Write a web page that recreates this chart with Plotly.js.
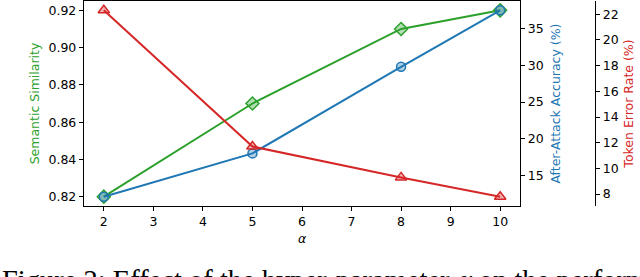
<!DOCTYPE html>
<html>
<head>
<meta charset="utf-8">
<script src="https://cdn.plot.ly/plotly-3.0.1.min.js"></script>
<style>html,body{margin:0;padding:0;background:#fff;overflow:hidden}</style>
</head>
<body>
<div id="chart" style="width:640px;height:277px"></div>
<script>
// Data
const alphas = [2, 5, 8, 10];
const semanticSimilarity = [0.82, 0.87, 0.91, 0.92];
const afterAttackAccuracy = [12.1, 18.0, 29.8, 37.5];
const tokenErrorRate = [22.3, 11.7, 9.3, 7.8];
const xTicks = [2, 3, 4, 5, 6, 7, 8, 9, 10];
const simTicks = [0.82, 0.84, 0.86, 0.88, 0.90, 0.92];
const accTicks = [15, 20, 25, 30, 35];
const terTicks = [8, 10, 12, 14, 16, 18, 20, 22];

const GREEN = '#2ca02c', BLUE = '#1f77b4', RED = '#d62728';
const FONT = 'DejaVu Sans, sans-serif';

function padded(v) { // matplotlib-like 5% margins
  const lo = Math.min(...v), hi = Math.max(...v), d = (hi - lo) * 0.05;
  return [lo - d, hi + d];
}

const W = 640, H = 277;
const margin = {l: 84, r: 10, t: 1, b: 71};
const paperW = W - margin.l - margin.r;
const plotRight = 520, thirdAxisX = 595;
const domEnd = (plotRight - margin.l) / paperW;
const thirdPos = (thirdAxisX - margin.l) / paperW;

function rgba(hex, a) {
  const n = parseInt(hex.slice(1), 16);
  return `rgba(${n >> 16},${(n >> 8) & 255},${n & 255},${a})`;
}

const traces = [
  {x: alphas, y: semanticSimilarity, yaxis: 'y', mode: 'lines+markers', name: 'Semantic Similarity',
   line: {color: GREEN, width: 2},
   marker: {symbol: 'diamond', size: 10, color: rgba(GREEN, 0.35), line: {color: GREEN, width: 1.5}}},
  {x: alphas, y: afterAttackAccuracy, yaxis: 'y2', mode: 'lines+markers', name: 'After-Attack Accuracy',
   line: {color: BLUE, width: 2},
   marker: {symbol: 'circle', size: 9, color: rgba(BLUE, 0.35), line: {color: BLUE, width: 1.5}}},
  {x: alphas, y: tokenErrorRate, yaxis: 'y3', mode: 'lines+markers', name: 'Token Error Rate',
   line: {color: RED, width: 2},
   marker: {symbol: 'triangle-up', size: 10, color: rgba(RED, 0.35), line: {color: RED, width: 1.5}}}
];

const tickFont = {family: FONT, size: 12.5, color: '#000'};
const common = {showgrid: false, zeroline: false, showline: true, linecolor: '#000', linewidth: 1.2,
  ticks: 'outside', ticklen: 4, tickwidth: 1, tickcolor: '#000', tickfont: tickFont, automargin: false};

const layout = {
  width: W, height: H, margin: margin, showlegend: false,
  paper_bgcolor: '#fff', plot_bgcolor: '#fff',
  xaxis: Object.assign({}, common, {domain: [0, domEnd], range: [1.6, 10.4], tickvals: xTicks,
    ticktext: xTicks.map(String), mirror: true,
    title: {text: '<i>α</i>', font: {family: FONT, size: 12.5, color: '#000'}, standoff: 6}}),
  yaxis: Object.assign({}, common, {range: padded(semanticSimilarity), tickvals: simTicks,
    ticktext: simTicks.map(v => v.toFixed(2)), mirror: true,
    title: {text: 'Semantic Similarity', font: {family: FONT, size: 12.5, color: GREEN}, standoff: 6}}),
  yaxis2: Object.assign({}, common, {overlaying: 'y', side: 'right', anchor: 'x',
    range: padded(afterAttackAccuracy), tickvals: accTicks, ticktext: accTicks.map(String),
    title: {text: 'After-Attack Accuracy (%)', font: {family: FONT, size: 12.5, color: BLUE}, standoff: 8}}),
  yaxis3: Object.assign({}, common, {overlaying: 'y', side: 'right', anchor: 'free', position: thirdPos,
    range: padded(tokenErrorRate), tickvals: terTicks, ticktext: terTicks.map(String),
    title: {text: 'Token Error Rate (%)', font: {family: FONT, size: 12.5, color: RED}, standoff: 6}}),
  annotations: [{
    xref: 'paper', yref: 'paper', x: -margin.l / paperW, y: -(263 - 206) / 205,
    xanchor: 'left', yanchor: 'top', showarrow: false, align: 'left',
    text: 'Figure 2: Effect of the hyper-parameter <i>α</i> on the performance',
    font: {family: 'Liberation Serif, DejaVu Serif, serif', size: 28.5, color: '#000'}
  }]
};

Plotly.newPlot('chart', traces, layout, {staticPlot: true, displayModeBar: false});
</script>
</body>
</html>
